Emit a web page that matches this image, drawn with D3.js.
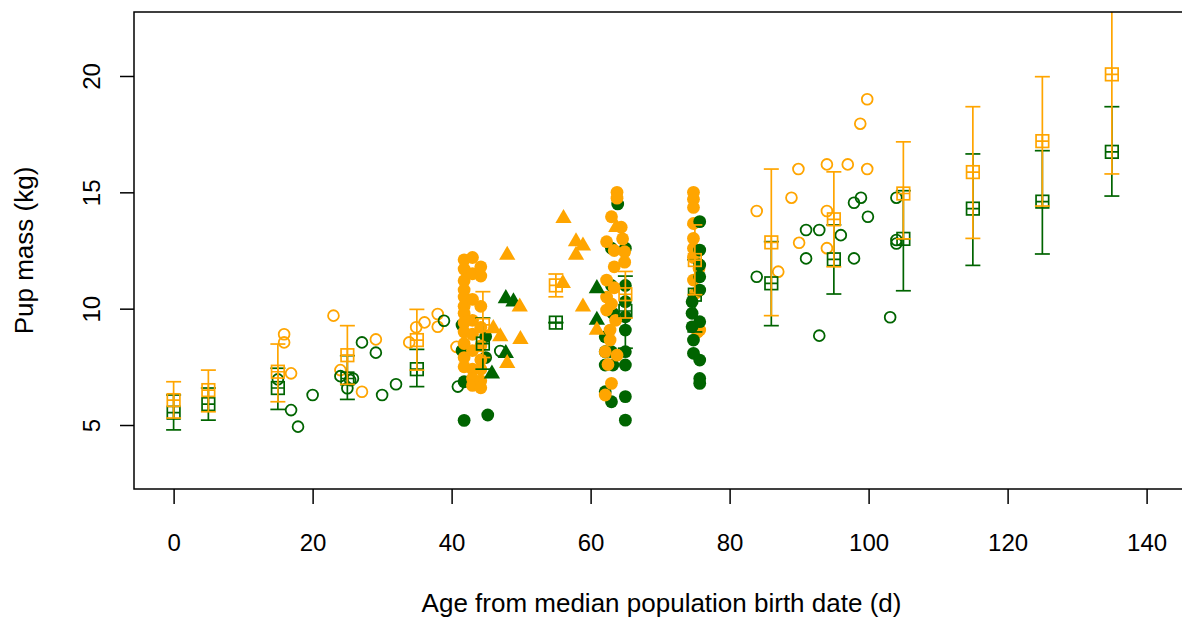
<!DOCTYPE html>
<html>
<head>
<meta charset="utf-8">
<script src="https://cdn.jsdelivr.net/npm/d3@7"></script>
<style>
  body { margin: 0; background: #fff; }
  text { font-family: "Liberation Sans", Arial, sans-serif; fill: #000; }
</style>
</head>
<body>
<div id="vis"></div>
<script>
const xTicks = [0, 20, 40, 60, 80, 100, 120, 140];
const yTicks = [5, 10, 15, 20];

// individual pups, open circles [age, mass]
const orangeOpen = [[15.9,8.9],[15.9,8.55],[16.9,7.22],[23.0,9.7],[24.0,7.36],[27.1,6.43],[29.1,8.68],
  [33.9,8.55],[34.9,9.2],[36.1,9.41],[38.0,9.77],[38.0,9.22],[40.7,8.36],[83.9,14.2],[87.0,11.59],
  [88.9,14.77],[89.9,16.0],[90.0,12.83],[94.0,16.2],[94.0,14.2],[94.0,12.6],[97.0,16.2],[98.8,17.95],
  [99.8,19.0],[99.8,16.0]];
const greenOpen = [[15.0,6.96],[16.9,5.64],[17.9,4.93],[20.0,6.29],[24.0,7.1],[25.0,6.58],[25.4,6.93],
  [25.8,7.0],[27.1,8.55],[29.1,8.11],[30.0,6.29],[32.0,6.75],[38.9,9.48],[40.9,6.65],[47.0,8.18],
  [83.9,11.37],[91.0,13.38],[92.9,13.38],[91.0,12.16],[96.0,13.16],[97.9,14.55],[98.9,14.77],
  [99.9,13.95],[97.9,12.16],[92.9,8.84],[103.1,9.63],[104.0,14.77],[104.0,12.95],[104.0,12.8]];

// filled circles, three colonies
const site43Green = [[41.8,5.2],[45.2,5.43],[41.8,6.86],[41.5,9.3],[41.5,8.2],[44.9,7.9],[44.9,8.8]];
const site43Orange = [[41.8,12.1],[41.8,11.7],[41.8,11.2],[41.8,10.8],[41.8,10.5],[41.8,10.1],[41.8,9.8],
  [41.8,9.4],[41.8,9.0],[41.8,8.5],[41.8,7.9],[41.8,7.5],[43.0,12.2],[43.0,11.5],[43.0,10.4],[43.0,9.5],
  [43.0,8.9],[43.0,8.2],[43.0,7.4],[43.0,7.0],[43.0,6.7],[44.2,11.8],[44.2,11.4],[44.2,10.1],[44.2,9.2],
  [44.2,8.4],[44.2,7.8],[44.2,7.4],[44.2,6.9],[44.2,6.6]];
const site64Green = [[63.9,14.5],[63.0,12.6],[63.0,11.0],[63.2,9.8],[62.1,8.79],[63.0,8.15],[62.1,8.15],
  [62.1,7.58],[63.2,7.58],[62.1,6.43],[63.0,6.0],[65.0,12.6],[65.0,11.0],[65.0,10.3],[65.0,9.65],
  [65.0,9.08],[65.0,8.15],[65.0,7.58],[65.0,6.22],[65.0,5.21]];
const site64Orange = [[63.8,15.0],[63.8,14.75],[63.0,13.95],[62.3,12.88],[64.9,12.45],[64.9,12.0],
  [62.3,11.23],[62.3,10.5],[62.3,9.94],[62.8,9.08],[62.8,8.65],[62.1,8.15],[63.8,8.0],[63.0,6.79],
  [62.1,6.29],[63.4,12.5],[63.4,11.8],[63.4,10.9],[63.0,10.2],[63.6,9.5],[62.5,7.6],[64.4,13.5],[64.6,13.0]];
const site75Orange = [[74.8,15.0],[74.8,14.7],[74.8,14.35],[74.8,13.66],[74.8,13.02],[74.8,12.6],
  [74.8,12.2],[75.6,11.73],[74.8,11.23],[75.1,10.66],[75.7,9.08],[75.4,9.0]];
const site75Green = [[75.7,13.74],[75.7,12.52],[75.7,11.88],[75.7,11.37],[75.7,10.8],[74.6,10.3],
  [74.6,9.8],[75.7,9.44],[74.6,9.22],[74.8,8.65],[74.8,8.08],[75.7,7.79],[75.7,7.0],[75.7,6.79]];

// triangles
const orangeTri = [[48.0,12.3],[49.8,10.08],[49.9,8.68],[48.0,7.65],[46.0,9.15],[47.0,8.8],[56.1,13.88],
  [57.9,12.88],[58.9,12.7],[57.9,12.3],[56.0,11.09],[58.9,10.08],[63.7,13.5],[60.9,9.08]];
const greenTri = [[47.8,10.44],[48.9,10.3],[47.8,8.08],[45.8,7.2],[60.9,10.87],[60.9,9.51]];

// age-class means with error bars
const meanAges  = [0, 5, 15, 25, 35, 44.5, 55, 65, 75, 86, 95, 105, 115, 125, 135];
const orangeMean = [6.07, 6.5, 7.29, 8.0, 8.65, 9.3, 11.0, 10.62, 12.09, 12.85, 13.84, 14.95, 15.87, 17.2, 20.07];
const orangeLo   = [5.3, 5.57, 6.0, 6.75, 7.36, 7.9, 10.51, 9.6, 10.6, 9.7, 11.8, 13.0, 13.02, 14.41, 15.79];
const orangeHi   = [6.86, 7.36, 8.48, 9.27, 9.97, 10.73, 11.49, 11.6, 13.6, 16.0, 15.88, 17.17, 18.68, 19.97, 24.35];
const greenMean  = [5.53, 5.9, 6.59, 7.0, 7.4, 8.5, 9.4, 9.9, 10.6, 11.09, 12.12, 13.0, 14.3, 14.6, 16.74];
const greenLo    = [4.79, 5.21, 5.67, 6.1, 6.65, 7.4, 9.4, 8.3, 9.0, 9.27, 10.63, 10.77, 11.86, 12.35, 14.84];
const greenHi    = [6.29, 6.59, 7.44, 7.98, 8.25, 9.6, 9.4, 11.4, 12.1, 12.88, 13.6, 15.07, 16.65, 16.79, 18.68];

const ORANGE = "#FFA500";
const GREEN = "#006400";

function drawChart() {
    const w = 1182, h = 619;
    const left = 134, right = 1189, top = 12, bottom = 489;

    const xScale = d3.scaleLinear().domain([-5.7, 146.1]).range([left, right]);
    const yScale = d3.scaleLinear().domain([2.25, 22.75]).range([bottom, top]);

    const svg = d3.select("#vis").append("svg")
        .attr("width", w).attr("height", h);

    svg.append("clipPath").attr("id", "plotclip")
        .append("rect")
        .attr("x", left).attr("y", top)
        .attr("width", right - left).attr("height", bottom - top);

    const plot = svg.append("g").attr("clip-path", "url(#plotclip)");

    /* OPEN CIRCLES */
    function openCircles(data, col) {
        plot.append("g").selectAll("circle")
            .data(data).enter().append("circle")
            .attr("cx", d => xScale(d[0]))
            .attr("cy", d => yScale(d[1]))
            .attr("r", 5.4)
            .style("fill", "none")
            .style("stroke", col)
            .style("stroke-width", 1.8);
    }
    openCircles(orangeOpen, ORANGE);
    openCircles(greenOpen, GREEN);

    /* FILLED CIRCLES */
    function dots(data, col) {
        plot.append("g").selectAll("circle")
            .data(data).enter().append("circle")
            .attr("cx", d => xScale(d[0]))
            .attr("cy", d => yScale(d[1]))
            .attr("r", 6.4)
            .style("fill", col);
    }
    dots(site43Green, GREEN);
    dots(site43Orange, ORANGE);
    dots(site64Green, GREEN);
    dots(site64Orange, ORANGE);
    dots(site75Orange, ORANGE);
    dots(site75Green, GREEN);

    /* TRIANGLES */
    const tri = d3.symbol().type(d3.symbolTriangle).size(115);
    function triangles(data, col) {
        plot.append("g").selectAll("path")
            .data(data).enter().append("path")
            .attr("d", tri)
            .attr("transform", d => "translate(" + xScale(d[0]) + "," + yScale(d[1]) + ")")
            .style("fill", col);
    }
    triangles(greenTri, GREEN);
    triangles(orangeTri, ORANGE);

    /* MEANS + ERROR BARS */
    function means(mean, lo, hi, col) {
        const g = plot.append("g")
            .style("stroke", col).style("stroke-width", 1.7).style("fill", "none");
        const cap = 7.5, hs = 6.3;
        meanAges.forEach(function(a, i) {
            const cx = xScale(a);
            g.append("line").attr("x1", cx).attr("x2", cx)
                .attr("y1", yScale(lo[i])).attr("y2", yScale(hi[i]));
            g.append("line").attr("x1", cx - cap).attr("x2", cx + cap)
                .attr("y1", yScale(lo[i])).attr("y2", yScale(lo[i]));
            g.append("line").attr("x1", cx - cap).attr("x2", cx + cap)
                .attr("y1", yScale(hi[i])).attr("y2", yScale(hi[i]));
            const cy = yScale(mean[i]);
            g.append("rect").attr("x", cx - hs).attr("y", cy - hs)
                .attr("width", 2 * hs).attr("height", 2 * hs);
            g.append("path")
                .attr("d", "M" + (cx - hs) + "," + cy + "H" + (cx + hs) + "M" + cx + "," + (cy - hs) + "V" + (cy + hs));
        });
    }
    means(greenMean, greenLo, greenHi, GREEN);
    means(orangeMean, orangeLo, orangeHi, ORANGE);

    /* BOX + AXES */
    svg.append("rect")
        .attr("x", left).attr("y", top)
        .attr("width", right - left).attr("height", bottom - top)
        .style("fill", "none").style("stroke", "#000").style("stroke-width", 1.5);

    const xAxis = d3.axisBottom(xScale).tickValues(xTicks).tickSize(15).tickPadding(30)
        .tickFormat(d3.format("d"));
    const gx = svg.append("g")
        .attr("transform", "translate(0," + bottom + ")")
        .call(xAxis);
    gx.select(".domain").remove();
    gx.selectAll("line").style("stroke", "#000").style("stroke-width", 1.5);
    gx.selectAll("text").style("font-size", "24px").style("fill", "#000");

    const yAxis = d3.axisLeft(yScale).tickValues(yTicks).tickSize(14);
    const gy = svg.append("g")
        .attr("transform", "translate(" + left + ",0)")
        .call(yAxis);
    gy.select(".domain").remove();
    gy.selectAll("line").style("stroke", "#000").style("stroke-width", 1.5);
    gy.selectAll("text")
        .attr("x", 0).attr("dy", 0)
        .attr("transform", "translate(-34,0) rotate(-90)")
        .style("text-anchor", "middle")
        .style("font-size", "24px").style("fill", "#000");

    /* TITLES */
    svg.append("text")
        .attr("x", (left + right) / 2).attr("y", 612)
        .style("text-anchor", "middle").style("font-size", "26px")
        .text("Age from median population birth date (d)");

    svg.append("text")
        .attr("transform", "translate(33," + ((top + bottom) / 2) + ") rotate(-90)")
        .style("text-anchor", "middle").style("font-size", "26px")
        .text("Pup mass (kg)");
}

drawChart();
</script>
</body>
</html>
